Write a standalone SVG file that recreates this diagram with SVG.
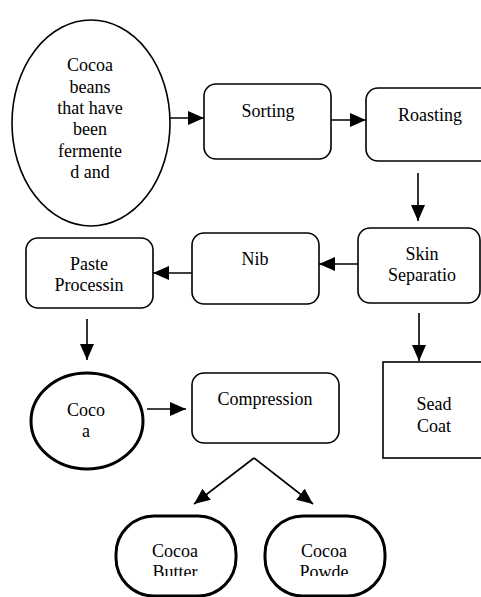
<svg xmlns="http://www.w3.org/2000/svg" width="481" height="597" viewBox="0 0 481 597">
<defs>
<style>
.n{fill:#fff;stroke:#000;stroke-width:1.6}
.t{fill:#fff;stroke:#000;stroke-width:3}
.c line{stroke:#000;stroke-width:1.6}
</style>
<marker id="a" markerUnits="userSpaceOnUse" markerWidth="16" markerHeight="16" viewBox="0 0 16 16" refX="16" refY="8" orient="auto">
<path d="M0,1 L16,8 L0,15 Z" fill="#000"/>
</marker>
<clipPath id="cb"><rect x="0" y="0" width="481" height="576"/></clipPath>
</defs>
<rect width="481" height="597" fill="#fff"/>
<g font-family="Liberation Serif, Tinos, Times New Roman, DejaVu Serif, serif" font-size="18" text-anchor="middle" fill="#000">
<g id="beans">
<ellipse class="n" cx="91" cy="123" rx="79" ry="103"/>
<text x="90" y="71">Cocoa</text>
<text x="90" y="93">beans</text>
<text x="90" y="114">that have</text>
<text x="90" y="135">been</text>
<text x="90" y="157">fermente</text>
<text x="90" y="178">d and</text>
</g>
<g id="sorting">
<rect class="n" x="204" y="84" width="127" height="75" rx="12"/>
<text x="268" y="117">Sorting</text>
</g>
<g id="roasting">
<rect class="n" x="366" y="88" width="130" height="73" rx="12"/>
<text x="430" y="121">Roasting</text>
</g>
<g id="skin">
<rect class="n" x="358" y="228" width="122" height="75" rx="12"/>
<text x="422" y="260">Skin</text>
<text x="422" y="281">Separatio</text>
</g>
<g id="nib">
<rect class="n" x="192" y="233" width="127" height="71" rx="12"/>
<text x="255" y="265">Nib</text>
</g>
<g id="paste">
<rect class="n" x="26" y="238" width="127" height="70" rx="12"/>
<text x="89" y="270">Paste</text>
<text x="89" y="291">Processin</text>
</g>
<g id="sead">
<rect class="n" x="383" y="362" width="110" height="96"/>
<text x="434" y="410">Sead</text>
<text x="434" y="432">Coat</text>
</g>
<g id="cocoa">
<ellipse class="t" cx="87" cy="421" rx="56" ry="48"/>
<text x="86" y="416">Coco</text>
<text x="86" y="437">a</text>
</g>
<g id="compression">
<rect class="n" x="192" y="373" width="147" height="70" rx="12"/>
<text x="265" y="405">Compression</text>
</g>
<g id="butter">
<rect class="t" x="116" y="516" width="120" height="80" rx="38"/>
<text x="175" y="557">Cocoa</text>
<text x="175" y="578" clip-path="url(#cb)">Butter</text>
</g>
<g id="powder">
<rect class="t" x="265" y="516" width="120" height="80" rx="38"/>
<text x="324" y="557">Cocoa</text>
<text x="324" y="578" clip-path="url(#cb)">Powde</text>
</g>
</g>
<g class="c" id="connectors">
<line x1="170" y1="118" x2="204" y2="118" marker-end="url(#a)"/>
<line x1="331" y1="120" x2="366" y2="120" marker-end="url(#a)"/>
<line x1="418" y1="173" x2="418" y2="221" marker-end="url(#a)"/>
<line x1="358" y1="264" x2="319" y2="264" marker-end="url(#a)"/>
<line x1="192" y1="273" x2="153" y2="273" marker-end="url(#a)"/>
<line x1="87" y1="319" x2="87" y2="360" marker-end="url(#a)"/>
<line x1="419" y1="313" x2="419" y2="361" marker-end="url(#a)"/>
<line x1="147" y1="409" x2="186" y2="409" marker-end="url(#a)"/>
<line x1="254" y1="458" x2="194" y2="504" marker-end="url(#a)"/>
<line x1="254" y1="458" x2="313" y2="504" marker-end="url(#a)"/>
</g>
</svg>
